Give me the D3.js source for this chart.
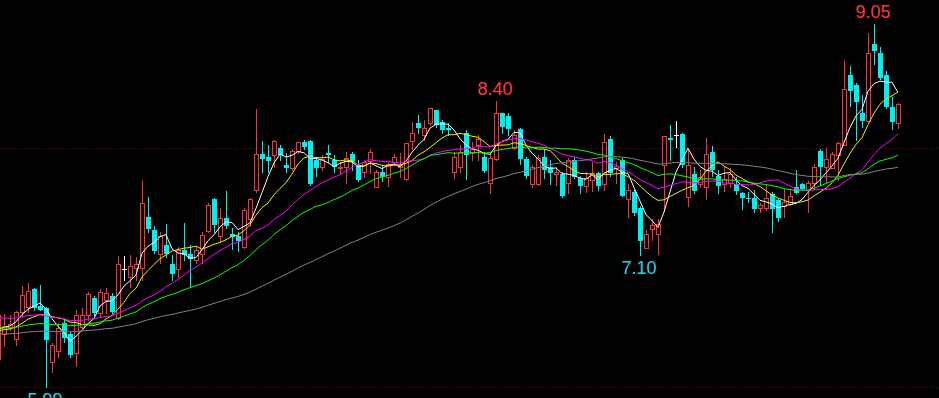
<!DOCTYPE html>
<html>
<head>
<meta charset="utf-8">
<script src="https://cdn.jsdelivr.net/npm/d3@7"></script>
<style>
body { margin: 0; background: #000; }
svg { display: block; background: #000; }
</style>
</head>
<body>
<svg width="939" height="398"></svg>
<script>
// daily bars, oldest first (the first one is cut by the left edge)
var open = [6.22,6.43,6.48,6.39,6.62,6.66,6.81,6.67,6.65,6.20,
  6.29,6.53,6.43,6.27,6.49,6.59,6.74,6.61,6.72,6.75,
  6.57,6.98,6.91,6.99,6.99,7.42,7.31,7.11,7.18,7.02,
  6.98,7.14,7.11,7.06,7.11,7.30,7.57,7.26,7.41,7.28,
  7.26,7.17,7.40,7.65,7.95,7.93,7.94,8.00,7.86,7.83,
  7.98,8.05,8.06,7.90,7.84,7.96,7.90,7.83,7.84,7.95,
  7.86,7.80,7.89,7.67,7.80,7.76,7.88,7.84,7.74,8.06,
  8.21,8.11,8.21,8.32,8.22,8.17,7.80,7.84,8.13,7.96,
  8.03,7.93,7.71,7.91,8.30,8.27,8.00,8.16,7.91,7.70,
  7.70,7.93,7.84,7.78,7.78,7.71,7.90,7.75,7.68,7.73,
  7.79,7.70,8.08,7.83,7.90,7.57,7.63,7.50,7.16,7.32,
  7.28,7.86,8.09,8.11,8.12,7.59,7.78,7.70,7.67,7.97,
  7.77,7.70,7.71,7.70,7.62,7.58,7.58,7.50,7.50,7.61,
  7.56,7.51,7.53,7.67,7.70,7.65,7.71,7.98,7.84,7.83,
  7.94,8.03,8.62,8.53,8.30,8.23,8.88,8.80,8.62,8.35,
  8.21];
var high = [6.62,6.60,6.59,6.63,6.84,6.86,6.82,6.85,6.66,6.36,
  6.53,6.56,6.45,6.64,6.65,6.79,6.75,6.81,6.82,6.78,
  7.09,7.09,7.10,7.08,7.72,7.59,7.34,7.29,7.36,7.10,
  7.17,7.37,7.18,7.17,7.29,7.54,7.58,7.50,7.64,7.33,
  7.29,7.50,7.58,8.33,8.06,8.03,8.07,8.03,7.96,7.99,
  8.05,8.07,8.07,7.93,7.94,8.03,7.94,7.88,7.97,7.97,
  7.90,7.90,7.99,7.82,7.86,7.88,7.95,7.96,8.04,8.22,
  8.28,8.24,8.34,8.32,8.24,8.21,7.97,8.03,8.15,8.05,
  8.11,7.97,7.96,8.40,8.30,8.30,8.15,8.17,7.93,7.86,
  7.94,7.99,7.90,7.84,7.80,7.92,7.93,7.77,7.80,7.88,
  7.80,8.12,8.10,7.88,7.92,7.70,7.65,7.51,7.31,7.40,
  7.40,8.10,8.20,8.23,8.13,7.99,7.84,7.82,8.09,8.02,
  7.82,7.84,7.83,7.76,7.63,7.63,7.65,7.54,7.69,7.63,
  7.57,7.66,7.66,7.82,7.71,7.72,7.87,7.99,8.00,7.97,
  8.05,8.74,8.69,8.55,8.45,8.97,9.05,8.85,8.65,8.43,
  8.38];
var low = [6.20,6.33,6.47,6.34,6.58,6.62,6.64,6.64,5.99,6.11,
  6.24,6.37,6.24,6.16,6.48,6.55,6.59,6.58,6.61,6.61,
  6.56,6.89,6.83,6.89,6.89,7.29,7.12,7.03,7.08,6.89,
  6.91,7.06,6.83,7.03,7.03,7.29,7.29,7.21,7.33,7.15,
  7.13,7.16,7.34,7.63,7.80,7.80,7.84,7.90,7.80,7.82,
  7.96,7.99,7.69,7.77,7.82,7.88,7.80,7.79,7.71,7.82,
  7.72,7.76,7.79,7.67,7.72,7.68,7.86,7.76,7.73,7.99,
  8.13,8.07,8.20,8.18,8.13,8.11,7.75,7.80,7.74,7.90,
  7.90,7.80,7.62,7.90,8.13,8.11,7.99,7.87,7.75,7.67,
  7.69,7.75,7.70,7.69,7.59,7.62,7.75,7.62,7.63,7.64,
  7.65,7.65,7.77,7.71,7.60,7.42,7.44,7.10,7.16,7.23,
  7.11,7.48,7.90,8.01,7.84,7.51,7.62,7.67,7.57,7.77,
  7.62,7.64,7.67,7.61,7.49,7.55,7.46,7.46,7.48,7.29,
  7.39,7.42,7.52,7.62,7.65,7.46,7.65,7.69,7.71,7.83,
  7.73,8.03,8.36,8.07,8.18,8.23,8.71,8.58,8.34,8.16,
  8.17];
var close = [6.59,6.50,6.52,6.62,6.76,6.80,6.65,6.64,6.38,6.34,
  6.48,6.40,6.26,6.59,6.59,6.77,6.61,6.79,6.78,6.62,
  7.02,6.98,7.01,7.02,7.54,7.32,7.13,7.26,7.11,6.94,
  7.14,7.10,7.07,7.14,7.27,7.52,7.35,7.41,7.34,7.25,
  7.22,7.48,7.57,7.95,7.91,7.89,8.06,7.94,7.83,7.98,
  8.05,8.01,7.70,7.83,7.91,7.94,7.84,7.84,7.92,7.88,
  7.73,7.88,7.97,7.80,7.76,7.87,7.93,7.86,8.04,8.13,
  8.17,8.17,8.34,8.20,8.15,8.15,7.93,7.97,7.94,7.99,
  8.08,7.81,7.92,8.30,8.18,8.16,8.11,7.91,7.77,7.84,
  7.92,7.82,7.79,7.80,7.60,7.90,7.76,7.68,7.75,7.79,
  7.68,8.05,7.79,7.85,7.60,7.65,7.45,7.22,7.28,7.35,
  7.36,8.10,8.07,8.11,7.86,7.86,7.64,7.76,7.95,7.82,
  7.68,7.74,7.78,7.64,7.58,7.57,7.49,7.52,7.58,7.49,
  7.41,7.55,7.60,7.62,7.66,7.71,7.84,7.84,7.91,7.95,
  8.04,8.50,8.48,8.39,8.23,8.80,8.82,8.59,8.35,8.22,
  8.37];

// moving averages: periods, colours, and the level of each average just before the first bar
var maPeriods = [5, 10, 20, 30, 60];
var maColors = ["#ffffff", "#f0f000", "#ff00ff", "#00ff00", "#808080"];
var maSeed = [6.45, 6.45, 6.57, 6.48, 6.43];

// marked extremes
var peakIdx = [146, 83];
var troughIdx = [107, 8];
var refLevels = [8.00, 5.99];

var svg = d3.select("svg");
var W = 939, H = 398;
var up = "#ff3232", down = "#00f0f0";

var x = d3.scaleLinear().domain([0, close.length - 1]).range([-2, 898]);
var y = d3.scaleLinear().domain([5.99, 9.05]).range([386.6, 23.7]);

svg.append("rect").attr("width", W).attr("height", H).attr("fill", "#000");

// dotted reference lines
svg.selectAll("line.ref")
  .data(refLevels)
  .enter().append("line")
    .attr("class", "ref")
    .attr("x1", 0).attr("x2", W)
    .attr("y1", function(d) { return Math.round(y(d)) + 0.5; })
    .attr("y2", function(d) { return Math.round(y(d)) + 0.5; })
    .attr("shape-rendering", "crispEdges")
    .style("stroke", "#8a0000")
    .style("stroke-width", 1)
    .style("stroke-dasharray", "1,2");

// candles
var bars = d3.range(close.length);
var g = svg.append("g").attr("shape-rendering", "crispEdges");

bars.forEach(function(i) {
  var cx = Math.round(x(i));
  var o = open[i], c = close[i];
  var t = Math.round(y(Math.max(o, c)));
  var b = Math.round(y(Math.min(o, c)));
  var hy = Math.round(y(high[i]));
  var ly = Math.round(y(low[i]));
  var col;

  if (o === c) {
    col = "#ffffff";
    g.append("line").attr("x1", cx + 0.5).attr("x2", cx + 0.5)
      .attr("y1", hy).attr("y2", ly + 1).style("stroke", col);
    g.append("line").attr("x1", cx - 2).attr("x2", cx + 3)
      .attr("y1", t + 0.5).attr("y2", t + 0.5).style("stroke", col);
  } else if (c > o) {
    col = up;
    if (hy < t) g.append("line").attr("x1", cx + 0.5).attr("x2", cx + 0.5)
      .attr("y1", hy).attr("y2", t).style("stroke", col);
    if (ly > b) g.append("line").attr("x1", cx + 0.5).attr("x2", cx + 0.5)
      .attr("y1", b + 1).attr("y2", ly + 1).style("stroke", col);
    g.append("rect")
      .attr("x", cx - 1.5).attr("y", t + 0.5)
      .attr("width", 4).attr("height", Math.max(1, b - t))
      .style("fill", "none").style("stroke", col);
  } else {
    col = down;
    g.append("line").attr("x1", cx + 0.5).attr("x2", cx + 0.5)
      .attr("y1", hy).attr("y2", ly + 1).style("stroke", col);
    g.append("rect")
      .attr("x", cx - 2).attr("y", t)
      .attr("width", 5).attr("height", Math.max(1, b - t))
      .style("fill", col);
  }
});

// moving average lines
function movingAvg(n, seed) {
  return close.map(function(c, i) {
    var s = 0;
    for (var j = i - n + 1; j <= i; j++) s += j < 0 ? seed : close[j];
    return s / n;
  });
}

var line = d3.line()
  .x(function(d, i) { return x(i); })
  .y(function(d) { return y(d); });

maPeriods.forEach(function(n, k) {
  svg.append("path")
    .datum(movingAvg(n, maSeed[k]))
    .attr("d", line)
    .style("fill", "none")
    .style("stroke", maColors[k])
    .style("stroke-width", 1);
});

// extreme labels
svg.selectAll("text.hi")
  .data(peakIdx)
  .enter().append("text")
    .attr("class", "hi")
    .attr("x", function(i) { return x(i) - 1; })
    .attr("y", function(i) { return y(high[i]) - 6; })
    .attr("text-anchor", "middle")
    .style("font-family", "Liberation Sans, Arial, sans-serif")
    .style("font-size", "18px")
    .style("fill", "#ff3c3c")
    .text(function(i) { return high[i].toFixed(2); });

svg.selectAll("text.lo")
  .data(troughIdx)
  .enter().append("text")
    .attr("class", "lo")
    .attr("x", function(i) { return x(i) - 1; })
    .attr("y", function(i) { return y(low[i]) + 19; })
    .attr("text-anchor", "middle")
    .style("font-family", "Liberation Sans, Arial, sans-serif")
    .style("font-size", "18px")
    .style("fill", "#22d8e8")
    .text(function(i) { return low[i].toFixed(2); });
</script>
</body>
</html>
